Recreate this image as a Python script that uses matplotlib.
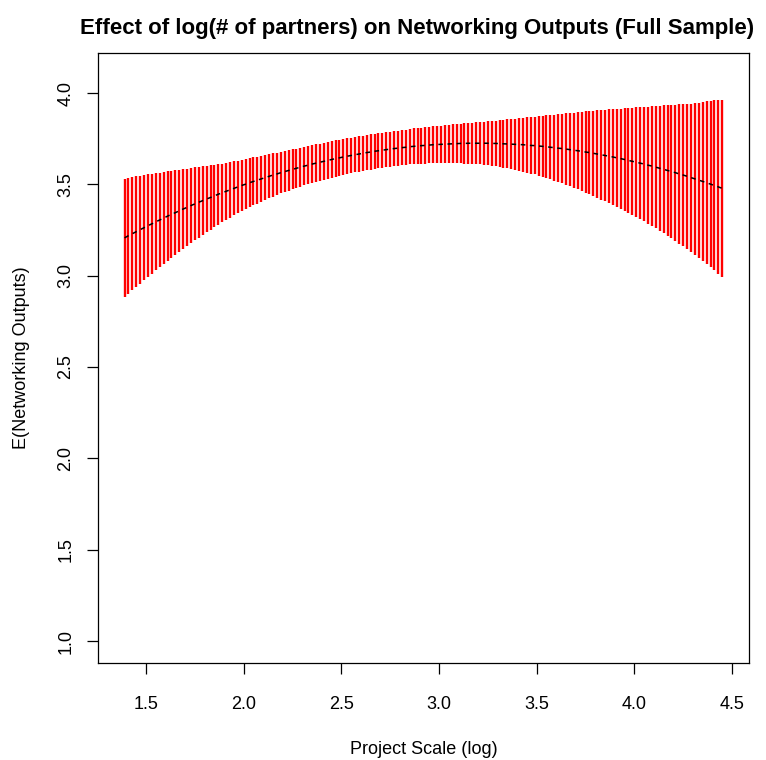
import matplotlib
matplotlib.use("Agg")
import matplotlib.pyplot as plt

plt.rcParams['font.family'] = ['Liberation Sans', 'DejaVu Sans']

# log(project scale) grid
scale_log = [
    1.39, 1.41, 1.43, 1.45, 1.47, 1.49, 1.51, 1.53, 1.55, 1.57,
    1.59, 1.61, 1.63, 1.65, 1.67, 1.69, 1.71, 1.73, 1.75, 1.77,
    1.79, 1.81, 1.83, 1.85, 1.87, 1.89, 1.91, 1.93, 1.95, 1.97,
    1.99, 2.01, 2.03, 2.05, 2.07, 2.09, 2.11, 2.13, 2.15, 2.17,
    2.19, 2.21, 2.23, 2.25, 2.27, 2.29, 2.31, 2.33, 2.35, 2.37,
    2.39, 2.41, 2.43, 2.45, 2.47, 2.49, 2.51, 2.53, 2.55, 2.57,
    2.59, 2.61, 2.63, 2.65, 2.67, 2.69, 2.71, 2.73, 2.75, 2.77,
    2.79, 2.81, 2.83, 2.85, 2.87, 2.89, 2.91, 2.93, 2.95, 2.97,
    2.99, 3.01, 3.03, 3.05, 3.07, 3.09, 3.11, 3.13, 3.15, 3.17,
    3.19, 3.21, 3.23, 3.25, 3.27, 3.29, 3.31, 3.33, 3.35, 3.37,
    3.39, 3.41, 3.43, 3.45, 3.47, 3.49, 3.51, 3.53, 3.55, 3.57,
    3.59, 3.61, 3.63, 3.65, 3.67, 3.69, 3.71, 3.73, 3.75, 3.77,
    3.79, 3.81, 3.83, 3.85, 3.87, 3.89, 3.91, 3.93, 3.95, 3.97,
    3.99, 4.01, 4.03, 4.05, 4.07, 4.09, 4.11, 4.13, 4.15, 4.17,
    4.19, 4.21, 4.23, 4.25, 4.27, 4.29, 4.31, 4.33, 4.35, 4.37,
    4.39, 4.41, 4.43, 4.45,
]

# expected networking outputs
expected = [
    3.207, 3.219, 3.230, 3.241, 3.252, 3.263, 3.274, 3.284, 3.295, 3.305,
    3.315, 3.326, 3.336, 3.345, 3.355, 3.365, 3.374, 3.384, 3.393, 3.402,
    3.411, 3.420, 3.428, 3.437, 3.446, 3.454, 3.462, 3.470, 3.478, 3.486,
    3.494, 3.501, 3.509, 3.516, 3.523, 3.530, 3.537, 3.544, 3.551, 3.557,
    3.564, 3.570, 3.576, 3.582, 3.588, 3.594, 3.600, 3.605, 3.611, 3.616,
    3.621, 3.626, 3.631, 3.636, 3.641, 3.645, 3.650, 3.654, 3.658, 3.662,
    3.666, 3.670, 3.674, 3.677, 3.681, 3.684, 3.687, 3.690, 3.693, 3.696,
    3.698, 3.701, 3.703, 3.706, 3.708, 3.710, 3.712, 3.713, 3.715, 3.717,
    3.718, 3.719, 3.720, 3.721, 3.722, 3.723, 3.724, 3.724, 3.725, 3.725,
    3.725, 3.725, 3.725, 3.725, 3.724, 3.724, 3.723, 3.722, 3.721, 3.720,
    3.719, 3.718, 3.717, 3.715, 3.713, 3.712, 3.710, 3.708, 3.706, 3.703,
    3.701, 3.698, 3.696, 3.693, 3.690, 3.687, 3.684, 3.681, 3.677, 3.674,
    3.670, 3.666, 3.662, 3.658, 3.654, 3.650, 3.645, 3.641, 3.636, 3.631,
    3.626, 3.621, 3.616, 3.611, 3.605, 3.600, 3.594, 3.588, 3.582, 3.576,
    3.570, 3.564, 3.557, 3.551, 3.544, 3.537, 3.530, 3.523, 3.516, 3.509,
    3.501, 3.494, 3.486, 3.478,
]

# half width of the 95% interval
ci_half = [
    0.325, 0.317, 0.310, 0.302, 0.295, 0.287, 0.280, 0.273, 0.266, 0.259,
    0.252, 0.245, 0.238, 0.232, 0.225, 0.218, 0.212, 0.206, 0.200, 0.194,
    0.188, 0.182, 0.177, 0.171, 0.166, 0.160, 0.156, 0.152, 0.148, 0.144,
    0.140, 0.137, 0.134, 0.131, 0.128, 0.125, 0.123, 0.120, 0.118, 0.115,
    0.113, 0.112, 0.110, 0.109, 0.107, 0.106, 0.105, 0.104, 0.104, 0.103,
    0.102, 0.101, 0.101, 0.100, 0.100, 0.099, 0.099, 0.098, 0.098, 0.097,
    0.097, 0.097, 0.097, 0.096, 0.096, 0.096, 0.096, 0.096, 0.096, 0.096,
    0.096, 0.096, 0.097, 0.097, 0.098, 0.098, 0.099, 0.099, 0.100, 0.100,
    0.101, 0.102, 0.103, 0.105, 0.106, 0.107, 0.108, 0.110, 0.111, 0.113,
    0.114, 0.116, 0.118, 0.120, 0.122, 0.124, 0.127, 0.130, 0.134, 0.137,
    0.140, 0.144, 0.147, 0.151, 0.154, 0.158, 0.162, 0.167, 0.171, 0.176,
    0.180, 0.185, 0.190, 0.195, 0.200, 0.205, 0.211, 0.216, 0.222, 0.227,
    0.233, 0.239, 0.245, 0.250, 0.256, 0.262, 0.268, 0.274, 0.281, 0.287,
    0.293, 0.300, 0.307, 0.314, 0.321, 0.328, 0.335, 0.343, 0.350, 0.358,
    0.365, 0.373, 0.381, 0.389, 0.397, 0.405, 0.415, 0.425, 0.435, 0.445,
    0.455, 0.465, 0.475, 0.485,
]

lower = [m - h for m, h in zip(expected, ci_half)]
upper = [m + h for m, h in zip(expected, ci_half)]

fig = plt.figure(figsize=(7.66, 7.60), dpi=100)
ax = fig.add_axes([98 / 766, 97 / 760, 651 / 766, 610 / 760])

# confidence intervals as vertical segments
ax.vlines(scale_log, lower, upper, colors="red", linewidth=1.7)
# point estimates
ax.plot(scale_log, expected, color="black", linestyle=(0, (3, 3)), linewidth=1.1)

ax.set_xlim(1.254, 4.587)
ax.set_ylim(0.880, 4.219)
ax.set_xticks([1.5, 2.0, 2.5, 3.0, 3.5, 4.0, 4.5])
ax.set_yticks([1.0, 1.5, 2.0, 2.5, 3.0, 3.5, 4.0])

for s in ax.spines.values():
    s.set_linewidth(0.9)
ax.tick_params(direction="out", length=8, width=0.9, labelsize=13)
ax.tick_params(axis="x", pad=16)
ax.tick_params(axis="y", pad=9)
for lab in ax.get_yticklabels():
    lab.set_rotation(90)
    lab.set_verticalalignment("center")

ax.set_xlabel("Project Scale (log)", fontsize=13, labelpad=20)
ax.set_ylabel("E(Networking Outputs)", fontsize=13, labelpad=20)
ax.set_title("Effect of log(# of partners) on Networking Outputs (Full Sample)",
             fontsize=16, fontweight="bold", pad=14, x=0.49)

plt.savefig("out.png", dpi=100)
